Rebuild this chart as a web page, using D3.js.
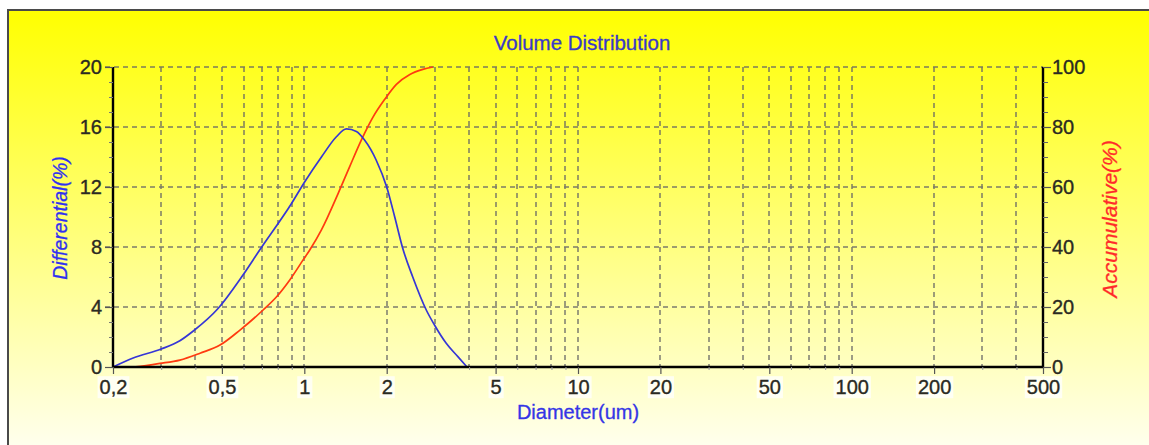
<!DOCTYPE html>
<html>
<head>
<meta charset="utf-8">
<script src="https://cdnjs.cloudflare.com/ajax/libs/d3/7.8.5/d3.min.js"></script>
<style>
  html, body { margin: 0; padding: 0; background: #ffffff; }
  svg { display: block; font-family: "Liberation Sans", Arial, sans-serif; }
</style>
</head>
<body>
<div id="graphique"></div>
<script>
// Donnees
// Differentiel (axe gauche, %)
const diametresDiff = [0.2, 0.237, 0.3, 0.351, 0.393, 0.484, 0.59, 0.69, 0.898, 1.004, 1.155, 1.31, 1.425, 1.55, 1.66, 1.83, 2.0, 2.14, 2.29, 2.49, 2.79, 2.99, 3.3, 3.64, 3.93];
const valeursDiff   = [0, 0.6, 1.2, 1.75, 2.4, 3.9, 6.0, 7.85, 10.9, 12.35, 14.0, 15.35, 15.87, 15.7, 15.13, 13.8, 12.0, 10.0, 7.9, 6.0, 3.8, 2.8, 1.58, 0.69, 0];

// Cumulatif (axe droit, %)
const diametresCumul = [0.2, 0.234, 0.297, 0.351, 0.416, 0.492, 0.582, 0.707, 0.792, 0.885, 0.99, 1.047, 1.155, 1.33, 1.465, 1.617, 1.78, 1.97, 2.17, 2.43, 2.71, 2.95];
const valeursCumul   = [0, 0, 1.2, 2.3, 4.6, 7.3, 12.3, 19, 23.4, 29, 35.7, 39, 45.7, 57.9, 66.8, 75.7, 83.2, 89.3, 94.2, 97.5, 99.2, 100];

// Axes
const ticksX = [0.2, 0.5, 1, 2, 5, 10, 20, 50, 100, 200, 500];
const etiquettesX = ["0,2", "0,5", "1", "2", "5", "10", "20", "50", "100", "200", "500"];
const grilleX = [0.3, 0.4, 0.5, 0.6, 0.7, 0.8, 0.9, 1, 2, 3, 4, 5, 6, 7, 8, 9, 10, 20, 30, 40, 50, 60, 70, 80, 90, 100, 200, 300, 400];
const ticksGauche = [0, 4, 8, 12, 16, 20];
const ticksDroite = [0, 20, 40, 60, 80, 100];

const titre = "Volume Distribution";
const titreX = "Diameter(um)";
const titreGauche = "Differential(%)";
const titreDroite = "Accumulative(%)";

const largeur = 1149, hauteur = 445;
const zone = {left: 113, right: 1043, top: 67, bottom: 367};

const svg = d3.select("#graphique").append("svg")
    .attr("width", largeur)
    .attr("height", hauteur);

// Fond degrade jaune -> blanc
const defs = svg.append("defs");
const degrade = defs.append("linearGradient")
    .attr("id", "fond")
    .attr("x1", 0).attr("y1", 0).attr("x2", 0).attr("y2", 1);
degrade.append("stop").attr("offset", "0%").attr("stop-color", "#ffff00");
degrade.append("stop").attr("offset", "100%").attr("stop-color", "#fffff2");

svg.append("rect")
    .attr("x", 8).attr("y", 10)
    .attr("width", largeur).attr("height", hauteur)
    .attr("fill", "url(#fond)");

// Bordure du cadre
svg.append("path")
    .attr("d", "M8," + hauteur + "V10H" + largeur)
    .attr("fill", "none")
    .attr("stroke", "#4a4a4a")
    .attr("stroke-width", 2);

// Echelles
const x = d3.scaleLog().domain([0.2, 500]).range([zone.left, zone.right]);
const yG = d3.scaleLinear().domain([0, 20]).range([zone.bottom, zone.top]);
const yD = d3.scaleLinear().domain([0, 100]).range([zone.bottom, zone.top]);

// Grille verticale
const grille = svg.append("g")
    .attr("stroke", "#666")
    .attr("stroke-width", 1.5)
    .attr("stroke-dasharray", "5,4")
    .attr("opacity", 0.85);

grille.selectAll("line.v")
    .data(grilleX)
    .enter().append("line")
    .attr("class", "v")
    .attr("x1", d => Math.round(x(d))).attr("x2", d => Math.round(x(d)))
    .attr("y1", zone.top).attr("y2", zone.bottom);

// Grille horizontale (sans le zero)
grille.selectAll("line.h")
    .data(ticksGauche.filter(d => d > 0))
    .enter().append("line")
    .attr("class", "h")
    .attr("x1", zone.left - 8).attr("x2", zone.right)
    .attr("y1", d => Math.round(yG(d))).attr("y2", d => Math.round(yG(d)));

// Courbes
const ligneDiff = d3.line()
    .x((d, i) => x(diametresDiff[i]))
    .y(d => yG(d))
    .curve(d3.curveMonotoneX);

const ligneCumul = d3.line()
    .x((d, i) => x(diametresCumul[i]))
    .y(d => yD(d))
    .curve(d3.curveMonotoneX);

svg.append("path")
    .datum(valeursCumul)
    .attr("fill", "none")
    .attr("stroke", "#ff3a10")
    .attr("stroke-width", 1.7)
    .attr("d", ligneCumul);

svg.append("path")
    .datum(valeursDiff)
    .attr("fill", "none")
    .attr("stroke", "#3636d6")
    .attr("stroke-width", 1.7)
    .attr("d", ligneDiff);

// Axe gauche
const axeGauche = d3.axisLeft(yG).tickValues(ticksGauche).tickSize(8).tickPadding(3);
const gG = svg.append("g")
    .attr("transform", "translate(" + zone.left + ",0)")
    .call(axeGauche);

// Petites graduations gauche (tous les 1)
svg.append("g")
    .attr("transform", "translate(" + zone.left + ",0)")
    .call(d3.axisLeft(yG).tickValues(d3.range(0, 21).filter(d => d % 4 !== 0)).tickSize(4).tickFormat(""))
    .call(g => g.select(".domain").remove())
    .selectAll("line").attr("stroke", "#777");

// Axe droit
const axeDroite = d3.axisRight(yD).tickValues(ticksDroite).tickSize(8).tickPadding(1);
const gD = svg.append("g")
    .attr("transform", "translate(" + zone.right + ",0)")
    .call(axeDroite);

svg.append("g")
    .attr("transform", "translate(" + zone.right + ",0)")
    .call(d3.axisRight(yD).tickValues(d3.range(0, 101, 5).filter(d => d % 20 !== 0)).tickSize(5).tickFormat(""))
    .call(g => g.select(".domain").remove())
    .selectAll("line").attr("stroke", "#666");

// Axe du bas
const axeBas = d3.axisBottom(x)
    .tickValues(ticksX)
    .tickSize(7)
    .tickPadding(6)
    .tickFormat((d, i) => etiquettesX[i]);
const gB = svg.append("g")
    .attr("transform", "translate(0," + zone.bottom + ")")
    .call(axeBas);

svg.append("g")
    .attr("transform", "translate(0," + zone.bottom + ")")
    .call(d3.axisBottom(x).tickValues(grilleX.filter(d => ticksX.indexOf(d) < 0)).tickSize(3).tickFormat(""))
    .call(g => g.select(".domain").remove())
    .selectAll("line").attr("stroke", "#999");

// Style commun des axes
[gG, gD, gB].forEach(g => {
  g.select(".domain").attr("stroke", "#000").attr("stroke-width", 2.4);
  g.selectAll(".tick line").attr("stroke", "#555").attr("stroke-width", 1.2);
  g.selectAll(".tick text")
    .attr("fill", "#2a2a22")
    .attr("stroke", "#2a2a22")
    .attr("stroke-width", 0.35)
    .attr("font-size", "20px")
    .attr("font-family", "'Liberation Sans', Arial, sans-serif");
});
gG.select(".domain").attr("d", "M0," + zone.bottom + "V" + zone.top);
gD.select(".domain").attr("d", "M0," + zone.bottom + "V" + zone.top);
gB.select(".domain").attr("d", "M" + zone.left + ",0H" + zone.right);

// Fond blanc derriere les etiquettes du bas
gB.selectAll(".tick").each(function() {
  const t = d3.select(this).select("text");
  const b = t.node().getBBox();
  d3.select(this).insert("rect", "text")
    .attr("x", b.x - 2).attr("y", b.y)
    .attr("width", b.width + 4).attr("height", b.height)
    .attr("fill", "#ffffff")
    .attr("opacity", 0.75);
});

// Titres
svg.append("text")
    .attr("x", 582).attr("y", 50)
    .attr("text-anchor", "middle")
    .attr("fill", "#3a3ac8")
    .attr("stroke", "#3a3ac8")
    .attr("stroke-width", 0.3)
    .attr("font-size", "20.5px")
    .text(titre);

svg.append("text")
    .attr("x", 578).attr("y", 419)
    .attr("text-anchor", "middle")
    .attr("fill", "#3535e6")
    .attr("stroke", "#3535e6")
    .attr("stroke-width", 0.3)
    .attr("font-size", "20px")
    .text(titreX);

svg.append("text")
    .attr("transform", "translate(67,218) rotate(-90)")
    .attr("text-anchor", "middle")
    .attr("fill", "#3030f0")
    .attr("stroke", "#3030f0")
    .attr("stroke-width", 0.3)
    .attr("font-size", "19.5px")
    .attr("font-style", "italic")
    .text(titreGauche);

svg.append("text")
    .attr("transform", "translate(1117,219) rotate(-90)")
    .attr("text-anchor", "middle")
    .attr("fill", "#ff2a2a")
    .attr("stroke", "#ff2a2a")
    .attr("stroke-width", 0.3)
    .attr("font-size", "21px")
    .attr("font-style", "italic")
    .text(titreDroite);
</script>
</body>
</html>
